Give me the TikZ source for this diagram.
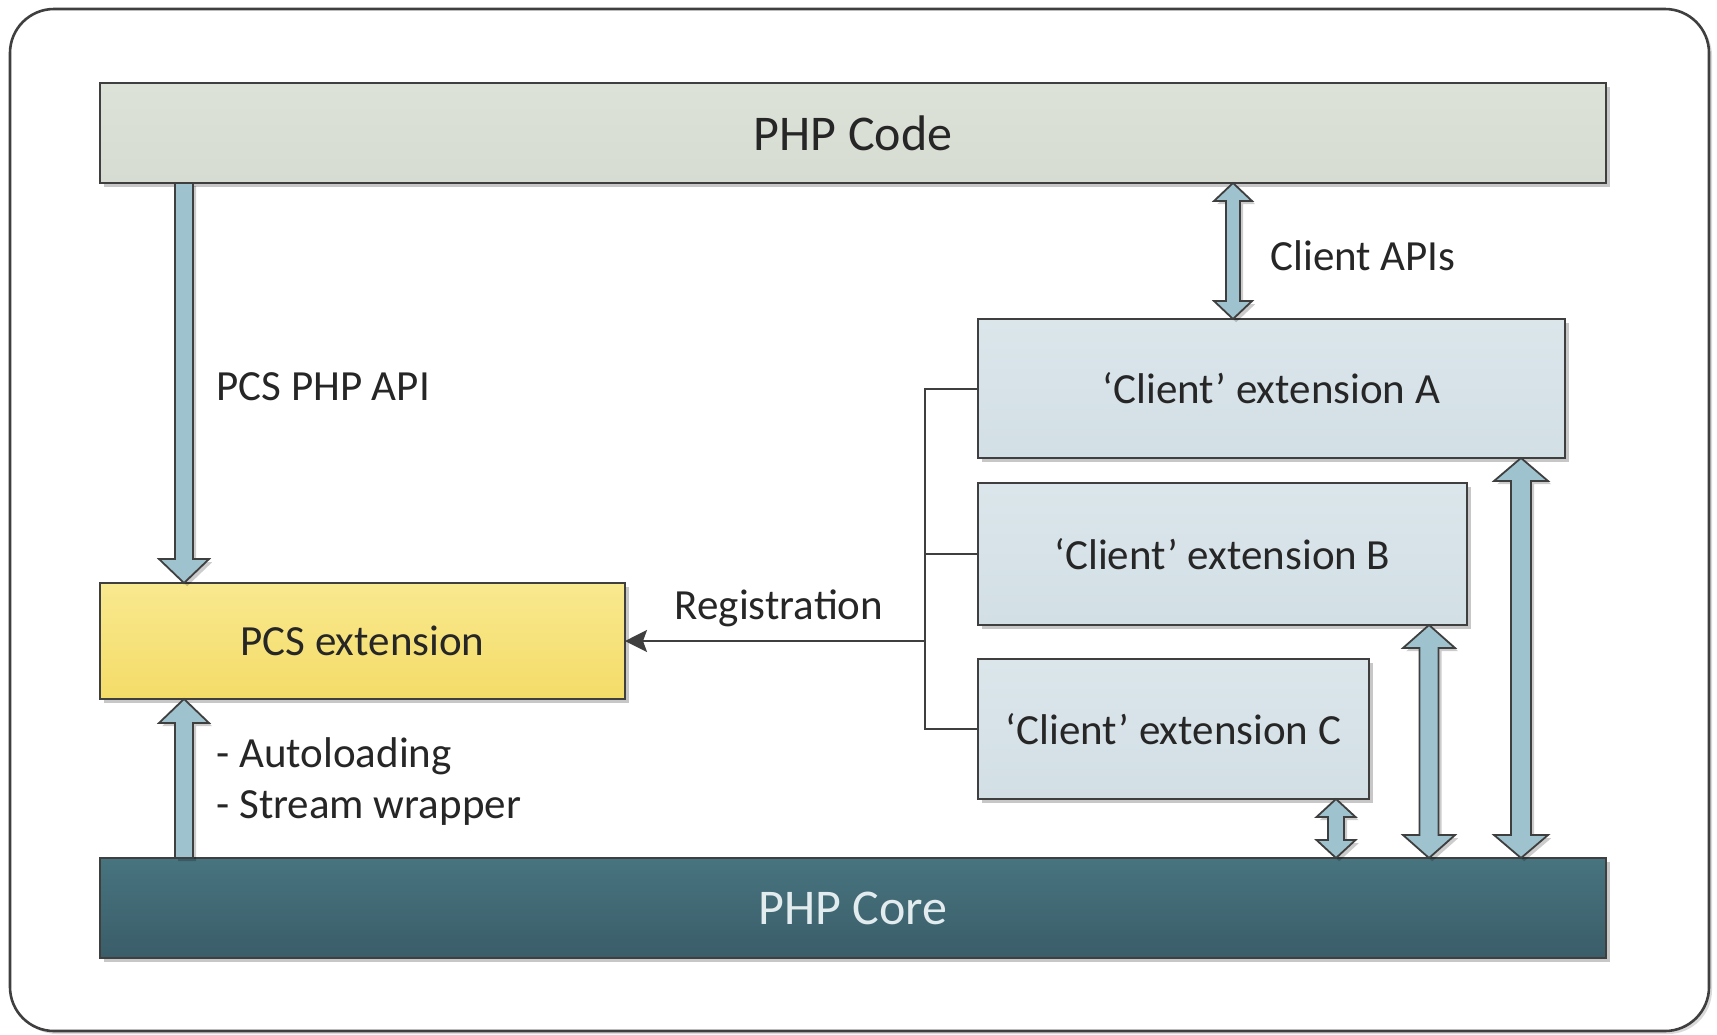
\documentclass[tikz,border=0pt]{standalone}
\usepackage{fontspec}
\setmainfont{Carlito}
\usetikzlibrary{shadows,arrows.meta,calc}

\definecolor{codetop}{HTML}{DDE2D9}
\definecolor{codebot}{HTML}{D6DCD1}
\definecolor{clienttop}{HTML}{DBE6EB}
\definecolor{clientbot}{HTML}{D2DFE5}
\definecolor{coretop}{HTML}{47747F}
\definecolor{corebot}{HTML}{3A5D69}
\definecolor{pcstop}{HTML}{F9E98F}
\definecolor{pcsbot}{HTML}{F4DC68}
\definecolor{arrowfill}{HTML}{9EC3CF}
\definecolor{edge}{HTML}{3F3F3F}
\definecolor{coretext}{HTML}{E2EBEE}
\definecolor{txt}{HTML}{262626}

\tikzset{
  box/.style={draw=edge, line width=1.2pt, inner sep=0pt, outer sep=0pt,
    drop shadow={shadow xshift=1.8pt, shadow yshift=-1.8pt, opacity=0.22, fill=black}},
  bigtext/.style={font=\fontsize{25}{30}\selectfont},
  boxtext/.style={font=\fontsize{21.5}{25.5}\selectfont, text=txt},
  lbl/.style={font=\fontsize{21.5}{25.5}\selectfont, text=txt, inner sep=0pt},
  fatstyle/.style={fill=arrowfill, draw=edge, line width=0.9pt, line join=miter,
    drop shadow={shadow xshift=1.6pt, shadow yshift=-1.6pt, opacity=0.2, fill=black}},
  conn/.style={draw=edge, line width=1pt},
}

% #1 top, #2 bottom, #3 half shaft, #4 half head, #5 head length
\newcommand\fatboth[5]{%
  \draw[fatstyle] let \p1=(#1), \p2=(#2) in
    (\x1,\y1) -- (\x1+#4,\y1-#5) -- (\x1+#3,\y1-#5) -- (\x1+#3,\y2+#5)
    -- (\x1+#4,\y2+#5) -- (\x1,\y2) -- (\x1-#4,\y2+#5) -- (\x1-#3,\y2+#5)
    -- (\x1-#3,\y1-#5) -- (\x1-#4,\y1-#5) -- cycle;}
\newcommand\fatdown[5]{%
  \draw[fatstyle] let \p1=(#1), \p2=(#2) in
    (\x1-#3,\y1) -- (\x1+#3,\y1) -- (\x1+#3,\y2+#5) -- (\x1+#4,\y2+#5)
    -- (\x1,\y2) -- (\x1-#4,\y2+#5) -- (\x1-#3,\y2+#5) -- cycle;}
\newcommand\fatup[5]{%
  \draw[fatstyle] let \p1=(#1), \p2=(#2) in
    (\x1,\y1) -- (\x1+#4,\y1-#5) -- (\x1+#3,\y1-#5) -- (\x1+#3,\y2)
    -- (\x1-#3,\y2) -- (\x1-#3,\y1-#5) -- (\x1-#4,\y1-#5) -- cycle;}

\begin{document}
\begin{tikzpicture}[x=0.5pt, y=-0.5pt]
  \useasboundingbox (0,0) rectangle (1717,1034);

  % outer frame
  \draw[draw=edge, line width=1.3pt, fill=white, rounded corners=22pt,
        drop shadow={shadow xshift=1.5pt, shadow yshift=-1.5pt, opacity=0.15, fill=black}]
        (10,9) rectangle (1709,1031);

  % boxes
  \node[box, top color=codetop, bottom color=codebot, minimum width=753pt, minimum height=50pt,
        bigtext, text=txt] (code) at (853,133) {PHP Code};
  \node[box, top color=coretop, bottom color=corebot, minimum width=753pt, minimum height=50pt,
        bigtext, text=coretext] (core) at (853,908) {PHP Core};
  \node[box, top color=pcstop, bottom color=pcsbot, minimum width=262.5pt, minimum height=58pt,
        boxtext] (pcs) at (362.5,641) {PCS extension};
  \node[box, top color=clienttop, bottom color=clientbot, minimum width=293.5pt, minimum height=69.5pt,
        boxtext] (ca) at (1271.5,388.5) {‘Client’ extension A};
  \node[box, top color=clienttop, bottom color=clientbot, minimum width=244.5pt, minimum height=71pt,
        boxtext] (cb) at (1222.5,554) {‘Client’ extension B};
  \node[box, top color=clienttop, bottom color=clientbot, minimum width=195.5pt, minimum height=70pt,
        boxtext] (cc) at (1173.5,729) {‘Client’ extension C};

  % arrow x positions
  \coordinate (xapi) at (184,0);
  \coordinate (xcli) at (1233,0);
  \coordinate (xc) at (1336,0);
  \coordinate (xb) at (1429,0);
  \coordinate (xa) at (1521,0);

  % fat arrows
  \fatdown{code.south -| xapi}{pcs.north -| xapi}{4.5pt}{12.5pt}{12pt}
  \fatup{pcs.south -| xapi}{core.north -| xapi}{4.5pt}{12.5pt}{12pt}
  \fatboth{code.south -| xcli}{ca.north -| xcli}{3.5pt}{9.5pt}{9pt}
  \fatboth{cc.south -| xc}{core.north -| xc}{4pt}{9.75pt}{9pt}
  \fatboth{cb.south -| xb}{core.north -| xb}{4.75pt}{13pt}{11.5pt}
  \fatboth{ca.south -| xa}{core.north -| xa}{5pt}{13.5pt}{11.5pt}

  % registration connectors
  \coordinate (j) at (925,641);
  \draw[conn] (ca.west) -- (ca.west -| j) -- (cc.west -| j) -- (cc.west);
  \draw[conn] (cb.west) -- (cb.west -| j);
  \draw[conn, -{Stealth[length=11pt, width=11pt, inset=2pt]}] (j) -- (pcs.east);

  % labels
  \node[lbl, anchor=west] (apilbl) at (216,387) {PCS PHP API};
  \node[lbl, anchor=west, align=left] (autolbl) at (216,782) {- Autoloading\\- Stream wrapper};
  \node[lbl, anchor=west] (clilbl) at (1270,256) {Client APIs};
  \node[lbl] (reglbl) at (779,608) {Registration};
\end{tikzpicture}
\end{document}
